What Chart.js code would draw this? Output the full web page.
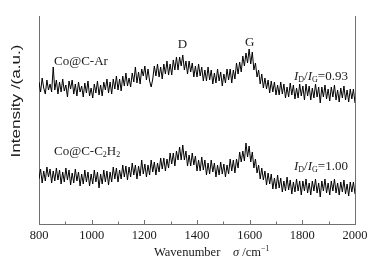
<!DOCTYPE html>
<html><head><meta charset="utf-8">
<script src="https://cdn.jsdelivr.net/npm/chart.js@4/dist/chart.umd.min.js"></script>
<style>html,body{margin:0;padding:0;background:#fff;}canvas{display:block;}</style>
</head><body>
<canvas id="c" width="376" height="263"></canvas>
<script>
// Wavenumber (cm^-1)
const wavenumbers = [
800,806,812,818,824,830,836,842,848,854,
860,866,872,878,884,890,896,902,908,914,
920,926,932,938,944,950,956,962,968,974,
980,986,992,998,1004,1010,1016,1022,1028,1034,
1040,1046,1052,1058,1064,1070,1076,1082,1088,1094,
1100,1106,1112,1118,1124,1130,1136,1142,1148,1154,
1160,1166,1172,1178,1184,1190,1196,1202,1208,1214,
1220,1226,1232,1238,1244,1250,1256,1262,1268,1274,
1280,1286,1292,1298,1304,1310,1316,1322,1328,1334,
1340,1346,1352,1358,1364,1370,1376,1382,1388,1394,
1400,1406,1412,1418,1424,1430,1436,1442,1448,1454,
1460,1466,1472,1478,1484,1490,1496,1502,1508,1514,
1520,1526,1532,1538,1544,1550,1556,1562,1568,1574,
1580,1586,1592,1598,1604,1610,1616,1622,1628,1634,
1640,1646,1652,1658,1664,1670,1676,1682,1688,1694,
1700,1706,1712,1718,1724,1730,1736,1742,1748,1754,
1760,1766,1772,1778,1784,1790,1796,1802,1808,1814,
1820,1826,1832,1838,1844,1850,1856,1862,1868,1874,
1880,1886,1892,1898,1904,1910,1916,1922,1928,1934,
1940,1946,1952,1958,1964,1970,1976,1982,1988,1994,
2000];
// Intensity (a.u., offset stacked) – Co@C-Ar
const intensityAr = [
142,132,146,136,130,144,134,140,132,157,
134,144,130,142,132,145,133,139,127,143,
135,144,130,140,128,142,132,138,127,141,
131,143,128,136,126,140,131,143,129,139,
128,142,134,145,131,142,130,145,135,148,
134,145,133,148,138,151,138,146,137,151,
142,157,141,152,140,155,148,158,144,155,
143,137,145,158,148,160,147,157,145,160,
150,163,149,160,149,164,154,167,154,167,
158,169,154,163,150,163,152,161,147,158,
147,160,148,157,143,154,143,157,144,154,
140,151,141,155,143,152,138,150,141,155,
144,155,141,154,145,161,150,162,152,168,
158,171,161,175,160,172,154,161,147,154,
140,150,136,146,135,144,131,143,132,142,
129,139,129,142,130,140,126,137,127,141,
129,139,125,136,126,140,128,138,124,140,
128,138,124,136,126,140,127,137,121,137,
127,139,125,135,123,137,127,139,124,134,
122,136,126,138,124,134,122,135,125,135,
121];
// Intensity (a.u., offset stacked) – Co@C-C2H2
const intensityC2H2 = [
45,55,41,53,43,57,47,55,41,53,
43,56,44,54,40,52,42,56,44,54,
39,51,41,55,43,52,38,50,40,54,
42,52,38,50,40,54,42,52,36,50,
40,54,42,53,39,52,42,57,45,56,
42,54,45,59,47,58,44,57,47,61,
49,59,45,58,48,64,50,60,47,59,
49,64,52,62,49,61,52,66,55,66,
53,65,56,71,60,71,58,73,64,77,
64,79,64,73,58,69,58,71,59,68,
53,64,53,67,54,64,49,61,50,64,
52,61,47,59,49,62,50,60,47,59,
50,65,53,64,51,65,56,72,62,73,
63,81,67,78,62,72,56,65,51,59,
45,56,44,53,39,51,40,50,35,46,
35,49,36,46,32,43,33,47,34,44,
30,42,32,45,33,43,29,43,33,45,
31,41,29,43,33,45,31,41,27,43,
33,45,31,41,29,43,33,45,31,41,
29,42,32,44,30,40,28,42,32,42,
30];
const xTickLabels = [800,1000,1200,1400,1600,1800,2000];
const seriesLabels = ["Co@C-Ar", "Co@C-C2H2"];
const ratioLabels = ["=0.93", "=1.00"];

const SERIF = '"Liberation Serif","Times New Roman",serif';
const AXIS_COLOR = '#707070';

function drawRich(ctx, x, y, segs, align) {
  let total = 0;
  segs.forEach(s => { ctx.font = (s[2] ? 'italic ' : '') + s[1] + 'px ' + SERIF; total += ctx.measureText(s[0]).width; });
  let cx = align === 'center' ? x - total / 2 : x;
  segs.forEach(s => {
    ctx.font = (s[2] ? 'italic ' : '') + s[1] + 'px ' + SERIF;
    ctx.fillText(s[0], cx, y + (s[3] || 0));
    cx += ctx.measureText(s[0]).width;
  });
}

const decor = {
  id: 'decor',
  afterDraw(chart) {
    const ctx = chart.ctx, a = chart.chartArea, xs = chart.scales.x;
    ctx.save();
    ctx.strokeStyle = AXIS_COLOR; ctx.lineWidth = 1;
    ctx.beginPath(); ctx.moveTo(Math.round(a.right) + 0.5, a.top); ctx.lineTo(Math.round(a.right) + 0.5, a.bottom); ctx.stroke();
    for (let v = 900; v < 2000; v += 100) {
      const px = Math.round(xs.getPixelForValue(v)) + 0.5;
      const len = (v % 200 === 0) ? 4 : 2.5;
      ctx.beginPath(); ctx.moveTo(px, a.bottom); ctx.lineTo(px, a.bottom - len); ctx.stroke();
    }
    ctx.fillStyle = '#1a1a1a';
    ctx.textBaseline = 'middle';
    ctx.textAlign = 'left';
    drawRich(ctx, xs.getPixelForValue(1345), 45, [['D', 13]], 'center');
    drawRich(ctx, xs.getPixelForValue(1600), 43, [['G', 13]], 'center');
    drawRich(ctx, 54, 62, [[seriesLabels[0], 13]], 'left');
    drawRich(ctx, 54, 152, [['Co@C-C', 13], ['2', 8, false, 3], ['H', 13], ['2', 8, false, 3]], 'left');
    [77, 167].forEach((yy, i) => {
      drawRich(ctx, 294, yy, [['I', 13, true], ['D', 8, false, 3], ['/', 13], ['I', 13, true], ['G', 8, false, 3], [ratioLabels[i], 13]], 'left');
    });
    drawRich(ctx, 154, 253, [['Wavenumber', 12.5]], 'left');
    drawRich(ctx, 233, 253, [['σ', 12.5, true], [' /cm', 12.5], ['−1', 8, false, -4]], 'left');
    ctx.translate(16, 101);
    ctx.rotate(-Math.PI / 2);
    ctx.textAlign = 'center';
    ctx.font = '13px "Liberation Sans",Arial,sans-serif';
    const label = 'Intensity /(a.u.)';
    const w = ctx.measureText(label).width;
    ctx.scale(113 / w, 1);
    ctx.fillText(label, 0, 0);
    ctx.restore();
  }
};

new Chart(document.getElementById('c'), {
  type: 'line',
  data: {
    datasets: [
      { label: seriesLabels[0], data: wavenumbers.map((x, i) => ({ x, y: intensityAr[i] })) },
      { label: seriesLabels[1], data: wavenumbers.map((x, i) => ({ x, y: intensityC2H2[i] })) }
    ]
  },
  options: {
    responsive: false,
    animation: false,
    devicePixelRatio: 1,
    layout: { padding: { top: 16, right: 21, left: 0, bottom: 0 } },
    elements: {
      point: { radius: 0 },
      line: { borderColor: '#000', borderWidth: 1, tension: 0 }
    },
    plugins: { legend: { display: false }, tooltip: { enabled: false } },
    scales: {
      x: {
        type: 'linear', min: 800, max: 2000,
        grid: { display: false, drawTicks: false },
        border: { display: true, color: AXIS_COLOR, width: 1 },
        ticks: {
          stepSize: 200, autoSkip: false, maxRotation: 0, padding: 4,
          color: '#1a1a1a', font: { family: SERIF, size: 12.5 },
          callback: v => xTickLabels.includes(v) ? String(v) : ''
        },
        afterFit: s => { s.height = 39; }
      },
      y: {
        min: 0, max: 208,
        grid: { display: false, drawTicks: false },
        border: { display: true, color: AXIS_COLOR, width: 1 },
        ticks: { display: false },
        afterFit: s => { s.width = 39; }
      }
    }
  },
  plugins: [decor]
});
</script>
</body></html>
